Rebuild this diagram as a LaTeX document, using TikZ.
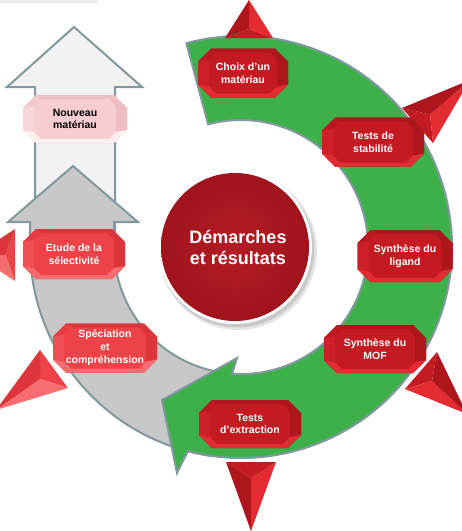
\documentclass[tikz,border=0pt]{standalone}
\usepackage{fontspec}
\setmainfont{Liberation Sans}
\usetikzlibrary{calc}
\definecolor{ringline}{RGB}{128,152,158}
\definecolor{ringgreen}{RGB}{62,176,74}
\definecolor{ringgray}{RGB}{200,200,200}
\definecolor{ringlight}{RGB}{242,242,242}
\definecolor{dkM}{RGB}{196,26,34}
\definecolor{dkL}{RGB}{226,44,50}
\definecolor{dkD}{RGB}{174,22,30}
\definecolor{ltM}{RGB}{236,66,72}
\definecolor{ltL}{RGB}{246,108,112}
\definecolor{ltD}{RGB}{220,54,60}
\definecolor{pkM}{RGB}{246,206,210}
\definecolor{pkL}{RGB}{253,238,240}
\definecolor{pkD}{RGB}{238,190,194}
\definecolor{centerred}{RGB}{180,28,36}
\definecolor{centerdark}{RGB}{160,20,28}

\tikzset{
  ringshape/.style={draw=ringline, line width=2pt, line join=miter},
  gemtext/.style={font=\bfseries\fontsize{10.5}{12.8}\selectfont, align=center, inner sep=0pt},
  centertext/.style={font=\bfseries\fontsize{18}{21}\selectfont, align=center, text=white, inner sep=0pt},
}

% name, x, y (pixel, down), w, h, colour prefix, text colour, text
\newcommand\gemnode[8]{%
  \begin{scope}[shift={(#2,-#3)}]
    \pgfmathsetmacro\gemA{#4/2}
    \pgfmathsetmacro\gemB{#5/2}
    \pgfmathsetmacro\gemC{13}
    \pgfmathsetmacro\gemAi{#4/2-11}
    \pgfmathsetmacro\gemBi{#5/2-4}
    \pgfmathsetmacro\gemCi{7}
    \coordinate (o1) at (-\gemA+\gemC,\gemB);
    \coordinate (o2) at (\gemA-\gemC,\gemB);
    \coordinate (o3) at (\gemA,\gemB-\gemC);
    \coordinate (o4) at (\gemA,-\gemB+\gemC);
    \coordinate (o5) at (\gemA-\gemC,-\gemB);
    \coordinate (o6) at (-\gemA+\gemC,-\gemB);
    \coordinate (o7) at (-\gemA,-\gemB+\gemC);
    \coordinate (o8) at (-\gemA,\gemB-\gemC);
    \coordinate (i1) at (-\gemAi+\gemCi,\gemBi);
    \coordinate (i2) at (\gemAi-\gemCi,\gemBi);
    \coordinate (i3) at (\gemAi,\gemBi-\gemCi);
    \coordinate (i4) at (\gemAi,-\gemBi+\gemCi);
    \coordinate (i5) at (\gemAi-\gemCi,-\gemBi);
    \coordinate (i6) at (-\gemAi+\gemCi,-\gemBi);
    \coordinate (i7) at (-\gemAi,-\gemBi+\gemCi);
    \coordinate (i8) at (-\gemAi,\gemBi-\gemCi);
    \fill[black, opacity=0.22, shift={(1.5,-2.5)}] (o1)--(o2)--(o3)--(o4)--(o5)--(o6)--(o7)--(o8)--cycle;
    \fill[#6M] (o1)--(o2)--(o3)--(o4)--(o5)--(o6)--(o7)--(o8)--cycle;
    \fill[#6D] (o1)--(o2)--(i2)--(i1)--cycle;
    \fill[#6D] (o2)--(o3)--(i3)--(i2)--cycle;
    \fill[#6D] (o3)--(o4)--(i4)--(i3)--cycle;
    \fill[#6L] (o4)--(o5)--(i5)--(i4)--cycle;
    \fill[#6L] (o5)--(o6)--(i6)--(i5)--cycle;
    \fill[#6L] (o6)--(o7)--(i7)--(i6)--cycle;
    \fill[#6M!70!#6L] (o7)--(o8)--(i8)--(i7)--cycle;
    \fill[#6M!60!#6D] (o8)--(o1)--(i1)--(i8)--cycle;
  \end{scope}
  \node[gemtext, text=#7] (#1) at (#2,-#3) {#8};
}

% tip, base1, base2, colour prefix
\newcommand\pyramid[4]{%
  \coordinate (pt) at #1;
  \coordinate (pb) at #2;
  \coordinate (pc) at #3;
  \coordinate (pm) at ($0.24*(pt)+0.38*(pb)+0.38*(pc)$);
  \fill[#4M] (pb)--(pc)--(pm)--cycle;
  \fill[#4L] (pt)--(pc)--(pm)--cycle;
  \fill[#4D] (pt)--(pb)--(pm)--cycle;
}

\begin{document}
\begin{tikzpicture}[x=1pt,y=1pt]
\useasboundingbox (0,0) rectangle (462,-531);
\fill[white] (0,0) rectangle (462,-531);

% faint fragment at the top left
\fill[black!8, rounded corners=1.5pt] (-5,1) rectangle (98,-3);

% back (light) arrow
\draw[ringshape, fill=ringlight] (35,-240) -- (35,-87) -- (7,-87) -- (74,-27) -- (142,-87) -- (115,-87) -- (115,-240) -- cycle;

\begin{scope}[shift={(241,-247)}]
  % grey arc and up arrow
  \draw[ringshape, fill=ringgray] (-211,0) -- (-211,25) -- (-233,25) -- (-168,81) -- (-103,25) -- (-127,25) -- (-127,0)
     arc[start angle=180, end angle=262, radius=127] -- (262:211)
     arc[start angle=262, end angle=180, radius=211] -- cycle;
  % green circular arrow
  \draw[ringshape, fill=ringgreen] (105:211) arc[start angle=105, end angle=-104.6, radius=211]
     -- (-64,-226) -- (-79,-153) -- (-4,-111) -- (-94:127)
     arc[start angle=-94, end angle=105, radius=127] -- cycle;
\end{scope}

% pyramids
\pyramid{(249,0)}{(225,-38)}{(273,-38)}{dk}
\pyramid{(470,-80)}{(402,-108)}{(433,-143)}{dk}
\pyramid{(467,-414)}{(437,-352)}{(405,-389)}{dk}
\pyramid{(251,-531)}{(226,-462)}{(276,-462)}{dk}
\pyramid{(-4,-410)}{(40,-350)}{(68,-388)}{lt}
\pyramid{(-25,-255)}{(15,-229)}{(15,-281)}{lt}

% centre circle
\fill[black, opacity=0.10] (238,-251) circle (79);
\fill[black, opacity=0.12] (237,-250) circle (77.5);
\fill[white] (235,-247) circle (77);
\shade[inner color=centerred, outer color=centerdark] (235,-247) circle (74);
\node[centertext] (center) at (238,-247) {Démarches\\et résultats};

% steps
\gemnode{choix}{243}{73}{90}{49}{dk}{white}{Choix d’un\\matériau}
\gemnode{stab}{373}{142}{102}{49}{dk}{white}{Tests de\\stabilité}
\gemnode{ligand}{405}{256}{95}{52}{dk}{white}{Synthèse du\\ligand}
\gemnode{mof}{375}{349}{102}{48}{dk}{white}{Synthèse du\\MOF}
\gemnode{extr}{250}{424}{102}{48}{dk}{white}{Tests\\d’extraction}
\gemnode{spec}{105}{348}{104}{49}{lt}{white}{Spéciation\\et\\compréhension}
\gemnode{etude}{74}{254}{102}{50}{lt}{white}{Etude de la\\sélectivité}
\gemnode{nouveau}{75}{119}{104}{48}{pk}{black}{Nouveau\\matériau}
\end{tikzpicture}
\end{document}
